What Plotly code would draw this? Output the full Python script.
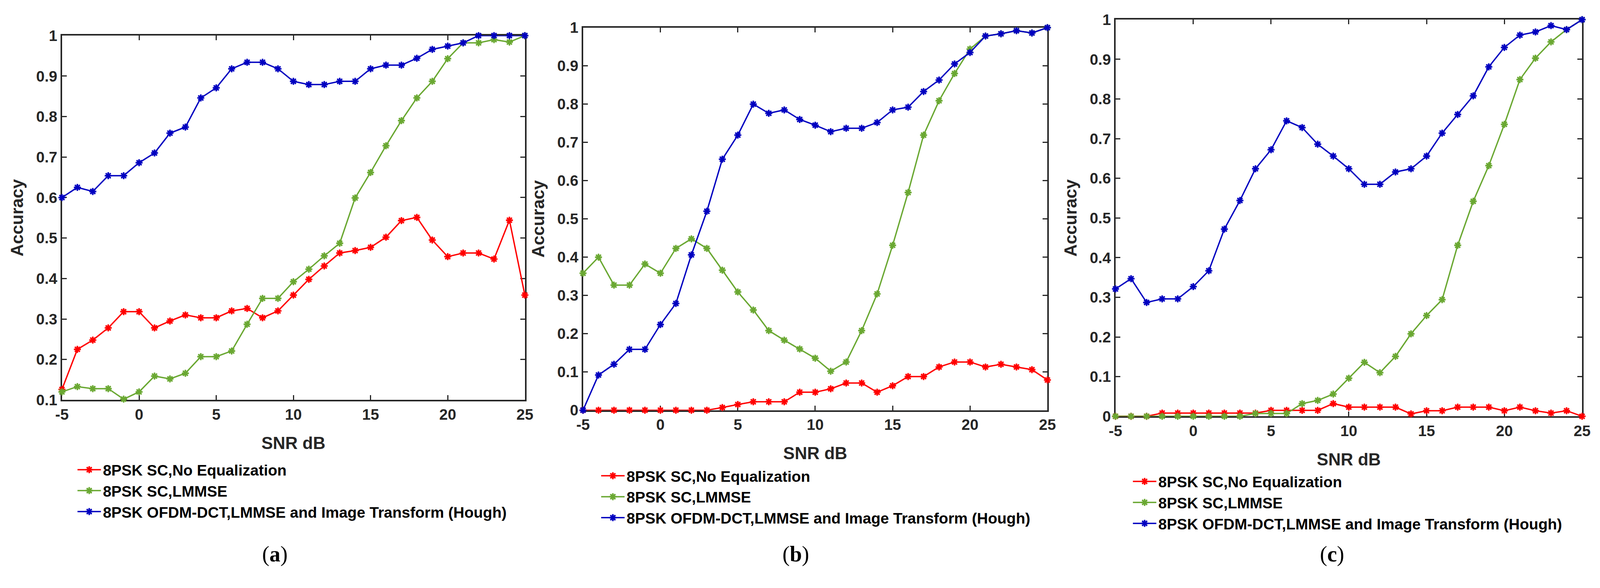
import plotly.graph_objects as go

snr = list(range(-5, 26))

# Panel (a)
a_noeq = [0.126, 0.225, 0.248, 0.278, 0.318, 0.318, 0.278, 0.295, 0.310, 0.303, 0.303,
          0.320, 0.326, 0.303, 0.320, 0.359, 0.398, 0.431, 0.463, 0.469, 0.477,
          0.502, 0.543, 0.551, 0.495, 0.454, 0.463, 0.463, 0.448, 0.544, 0.359]
a_lmmse = [0.120, 0.133, 0.128, 0.128, 0.102, 0.120, 0.159, 0.152, 0.166, 0.207, 0.207,
           0.221, 0.287, 0.351, 0.351, 0.392, 0.423, 0.456, 0.487, 0.599, 0.662,
           0.728, 0.790, 0.846, 0.887, 0.943, 0.982, 0.982, 0.990, 0.984, 1.0]
a_hough = [0.600, 0.625, 0.615, 0.654, 0.654, 0.686, 0.710, 0.759, 0.774, 0.846, 0.871,
           0.918, 0.934, 0.934, 0.918, 0.887, 0.879, 0.879, 0.887, 0.887, 0.918,
           0.927, 0.927, 0.944, 0.966, 0.974, 0.982, 1.0, 1.0, 1.0, 1.0]

# Panel (b)
b_noeq = [0, 0, 0, 0, 0, 0, 0, 0, 0, 0.007, 0.015,
          0.022, 0.022, 0.022, 0.047, 0.047, 0.056, 0.071, 0.071, 0.047, 0.064,
          0.088, 0.088, 0.113, 0.126, 0.126, 0.113, 0.120, 0.113, 0.106, 0.079]
b_lmmse = [0.358, 0.400, 0.327, 0.327, 0.382, 0.358, 0.423, 0.448, 0.423, 0.366, 0.309,
           0.262, 0.208, 0.183, 0.160, 0.136, 0.102, 0.126, 0.208, 0.304, 0.431,
           0.569, 0.719, 0.809, 0.880, 0.944, 0.978, 0.984, 0.992, 0.986, 1.0]
b_hough = [0.0, 0.092, 0.120, 0.159, 0.159, 0.224, 0.279, 0.406, 0.520, 0.656, 0.719,
           0.800, 0.776, 0.785, 0.760, 0.745, 0.728, 0.737, 0.737, 0.752, 0.785,
           0.792, 0.833, 0.863, 0.905, 0.935, 0.978, 0.984, 0.992, 0.986, 1.0]

# Panel (c)
c_noeq = [0, 0, 0, 0.008, 0.008, 0.008, 0.008, 0.008, 0.008, 0.008, 0.015,
          0.015, 0.015, 0.015, 0.032, 0.023, 0.023, 0.023, 0.023, 0.006, 0.014,
          0.014, 0.023, 0.023, 0.023, 0.014, 0.023, 0.014, 0.008, 0.014, 0.0]
c_lmmse = [0, 0, 0, 0, 0, 0, 0, 0, 0, 0.007, 0.007,
           0.007, 0.032, 0.040, 0.056, 0.096, 0.136, 0.110, 0.151, 0.208, 0.254,
           0.294, 0.431, 0.542, 0.632, 0.736, 0.849, 0.903, 0.944, 0.975, 1.0]
c_hough = [0.321, 0.347, 0.287, 0.296, 0.296, 0.327, 0.367, 0.472, 0.544, 0.624, 0.672,
           0.745, 0.728, 0.686, 0.656, 0.624, 0.585, 0.585, 0.616, 0.624, 0.656,
           0.714, 0.761, 0.808, 0.881, 0.930, 0.961, 0.969, 0.985, 0.975, 1.0]

series_names = ["8PSK SC,No Equalization", "8PSK SC,LMMSE",
                "8PSK OFDM-DCT,LMMSE and Image Transform (Hough)"]
panels = [(a_noeq, a_lmmse, a_hough), (b_noeq, b_lmmse, b_hough), (c_noeq, c_lmmse, c_hough)]
captions = ["a", "b", "c"]

x_ticks = [-5, 0, 5, 10, 15, 20, 25]
y_ticks_a = [0.1, 0.2, 0.3, 0.4, 0.5, 0.6, 0.7, 0.8, 0.9, 1.0]
y_text_a = ["0.1", "0.2", "0.3", "0.4", "0.5", "0.6", "0.7", "0.8", "0.9", "1"]
y_ticks_bc = [0.0] + y_ticks_a
y_text_bc = ["0"] + y_text_a

line_colors = ["#ff0000", "#6aa832", "#0000c0"]
marker_colors = ["#ff0000", "#77b23c", "#0000ff"]

# ---- geometry measured on the 4306x1506 reference (pixels) ----
REF_W, REF_H = 4306, 1506
VIEW_W = 4182      # estimated visible page width
PAGE_M = 8         # default body margin of the page
FIG_H = REF_H - 2 * PAGE_M


def fx(px):
    return (px * VIEW_W / REF_W - PAGE_M) / (VIEW_W - 2 * PAGE_M)


def fy(py):
    return 1 - (py - PAGE_M) / FIG_H


boxes = [  # left, right, top, bottom
    (150, 1408, 72, 1033),
    (1566, 2828, 51, 1060),
    (3013, 4281, 30, 1076),
]
legend_pos = [(187, 1176), (1610, 1192), (3055, 1207)]   # left, top (figure px)
caption_pos = [(728, 1440), (2144, 1440), (3601, 1440)]

FONT = "Liberation Sans, Arial, sans-serif"
AX = "#262626"

fig = go.Figure()

for p, ys in enumerate(panels):
    sfx = "" if p == 0 else str(p + 1)
    for k in range(3):
        fig.add_trace(go.Scatter(
            x=snr, y=ys[k], mode="lines+markers", name=series_names[k],
            xaxis="x" + sfx, yaxis="y" + sfx,
            legend="legend" + sfx, legendgroup=f"g{p}{k}",
            line=dict(color=line_colors[k], width=3.5),
            marker=dict(symbol="asterisk-open", size=15,
                        line=dict(width=4, color=marker_colors[k])),
            cliponaxis=False,
        ))

layout = dict(
    autosize=True, height=FIG_H, margin=dict(l=0, r=0, t=0, b=0),
    paper_bgcolor="white", plot_bgcolor="white", showlegend=True,
)

for p, box in enumerate(boxes):
    sfx = "" if p == 0 else str(p + 1)
    l, r, t, b = box
    common = dict(
        showline=True, linecolor=AX, linewidth=4, mirror="ticks",
        ticks="inside", ticklen=12, tickwidth=3, tickcolor=AX,
        showgrid=False, zeroline=False, layer="below traces",
        tickfont=dict(family=FONT, size=39, color=AX, weight="bold"),
    )
    layout["xaxis" + sfx] = dict(
        common, domain=[fx(l), fx(r)], anchor="y" + sfx, range=[-5, 25],
        tickvals=x_ticks, ticktext=[str(v) for v in x_ticks],
        title=dict(text="SNR dB", standoff=38,
                   font=dict(family=FONT, size=44, color=AX, weight="bold")),
    )
    layout["yaxis" + sfx] = dict(
        common, domain=[fy(b), fy(t)], anchor="x" + sfx,
        range=[0.1, 1] if p == 0 else [0, 1],
        tickvals=y_ticks_a if p == 0 else y_ticks_bc,
        ticktext=y_text_a if p == 0 else y_text_bc,
        title=dict(text="Accuracy", standoff=20,
                   font=dict(family=FONT, size=44, color=AX, weight="bold")),
    )
    lx, ly = legend_pos[p]
    layout["legend" + sfx] = dict(
        x=fx(lx), y=1 - ly / FIG_H, xanchor="left", yanchor="top",
        bgcolor="rgba(0,0,0,0)", borderwidth=0,
        font=dict(family=FONT, size=39, color="#000000", weight="bold"),
        traceorder="grouped", tracegroupgap=0, itemwidth=60,
    )

annotations = []
for cap, (cx, cy) in zip(captions, caption_pos):
    annotations.append(dict(
        text=f"(<b>{cap}</b>)", x=fx(cx), y=fy(cy), xref="paper", yref="paper",
        showarrow=False, xanchor="center", yanchor="middle",
        font=dict(family="Liberation Serif, Times New Roman, serif", size=56, color="#000000"),
    ))
layout["annotations"] = annotations

fig.update_layout(**layout)
fig.write_html("out.html")
